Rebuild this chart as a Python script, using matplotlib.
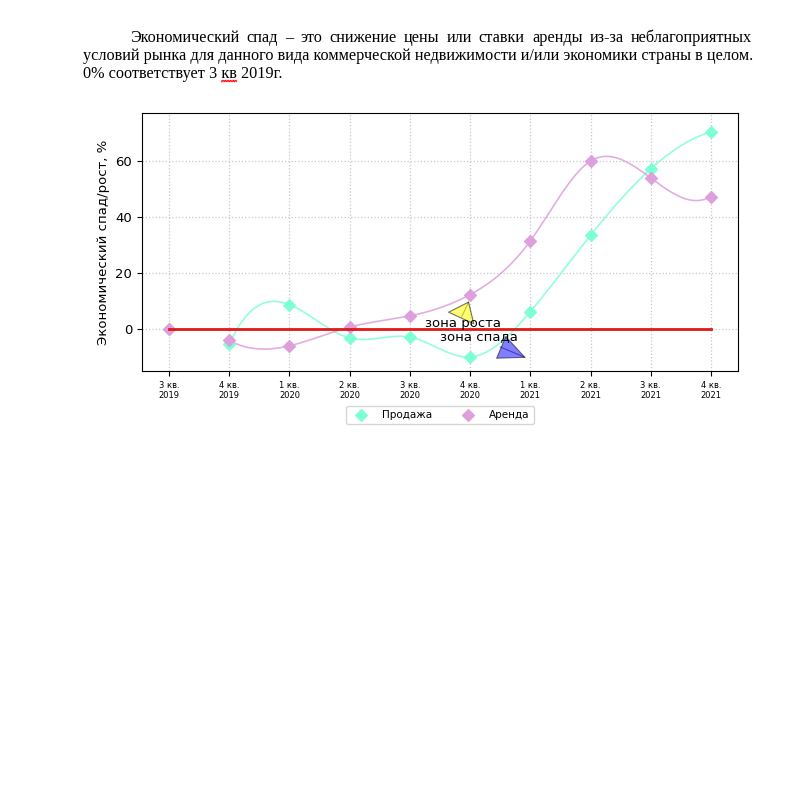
import numpy as np
import matplotlib.pyplot as plt

# data
quarters = ['3 кв.\n2019', '4 кв.\n2019', '1 кв.\n2020', '2 кв.\n2020', '3 кв.\n2020',
            '4 кв.\n2020', '1 кв.\n2021', '2 кв.\n2021', '3 кв.\n2021', '4 кв.\n2021']
sale = [0, -5.3, 8.7, -3.2, -2.9, -10.0, 6.2, 33.5, 57.2, 70.4]
rent = [0, -4.1, -6.0, 0.7, 4.7, 12.3, 31.5, 60.0, 54.0, 47.3]

line1 = 'Экономический спад – это снижение цены или ставки аренды из-за неблагоприятных'
line2 = 'условий рынка для данного вида коммерческой недвижимости и/или экономики страны в целом.'
line3 = '0% соответствует 3 кв 2019г.'


def spline(x, y, n=300):
    # cubic spline, not-a-knot ends
    x = np.asarray(x, float)
    y = np.asarray(y, float)
    k = len(x)
    h = np.diff(x)
    A = np.zeros((k, k))
    b = np.zeros(k)
    for i in range(1, k - 1):
        A[i, i - 1] = h[i - 1]
        A[i, i] = 2 * (h[i - 1] + h[i])
        A[i, i + 1] = h[i]
        b[i] = 6 * ((y[i + 1] - y[i]) / h[i] - (y[i] - y[i - 1]) / h[i - 1])
    A[0, 0], A[0, 1], A[0, 2] = h[1], -(h[0] + h[1]), h[0]
    A[-1, -3], A[-1, -2], A[-1, -1] = h[-1], -(h[-2] + h[-1]), h[-2]
    M = np.linalg.solve(A, b)
    xs = np.linspace(x[0], x[-1], n)
    i = np.clip(np.searchsorted(x, xs) - 1, 0, k - 2)
    x0, x1, hh = x[i], x[i + 1], h[i]
    ys = (M[i] * (x1 - xs) ** 3 + M[i + 1] * (xs - x0) ** 3) / (6 * hh) \
        + (y[i] / hh - M[i] * hh / 6) * (x1 - xs) \
        + (y[i + 1] / hh - M[i + 1] * hh / 6) * (xs - x0)
    return xs, ys


W = H = 787
fig = plt.figure(figsize=(7.87, 7.87), dpi=100)
ax = fig.add_axes([142 / W, 1 - 371 / H, 596 / W, 258 / H])

x = np.arange(len(quarters))

xs, ys = spline(x[1:], sale[1:])
ax.plot(xs, ys, color='aquamarine', lw=1.2, alpha=0.85)
xs, ys = spline(x[1:], rent[1:])
ax.plot(xs, ys, color='plum', lw=1.2, alpha=0.85)

ax.scatter(x, sale, marker='D', s=36, color='aquamarine', label='Продажа', zorder=3)
ax.scatter(x, rent, marker='D', s=36, color='plum', label='Аренда', zorder=3)

ax.plot([x[0], x[-1]], [0, 0], color='#e01818', lw=2, zorder=4)

# arrows
ax.annotate('', xy=(4.98, 9.9), xytext=(4.86, 4.3),
            arrowprops=dict(arrowstyle='-|>,head_length=12.6,head_width=10', mutation_scale=1,
                            fc='yellow', ec='black', lw=0.8, alpha=0.55,
                            shrinkA=0, shrinkB=0))
ax.annotate('', xy=(5.93, -10.3), xytext=(5.5, -6.4),
            arrowprops=dict(arrowstyle='-|>,head_length=18.5,head_width=8.5', mutation_scale=1,
                            fc='blue', ec='black', lw=0.8, alpha=0.5,
                            shrinkA=0, shrinkB=0))
ax.text(4.25, 0.6, 'зона роста', fontsize=9.5, zorder=5)
ax.text(4.5, -3.8, 'зона спада', fontsize=9.5, zorder=5)

ax.set_xlim(-0.45, 9.45)
ax.set_ylim(-15, 77.2)
ax.set_xticks(x)
ax.set_xticklabels(quarters, fontsize=6)
ax.set_yticks([0, 20, 40, 60])
ax.tick_params(axis='y', labelsize=9.5)
ax.set_ylabel('Экономический спад/рост, %', fontsize=9.5)
ax.grid(True, linestyle=':', color='#c8c8c8', lw=0.9)
ax.set_axisbelow(True)

ax.legend(loc='upper center', bbox_to_anchor=(0.5, -0.115), ncol=2, fontsize=7.5,
          markerscale=1.0, columnspacing=2.5, handletextpad=1.0, borderpad=0.4)

# text of the page above the chart
tfont = dict(family='Liberation Serif', fontsize=11.7)
fig.canvas.draw()
ren = fig.canvas.get_renderer()
words = line1.split(' ')
objs = [fig.text(0, 1 - 42 / H, w, **tfont) for w in words]
widths = [o.get_window_extent(ren).width for o in objs]
left, right = 130, 752
gap = (right - left - sum(widths)) / (len(words) - 1)
pos = left
for o, w in zip(objs, widths):
    o.set_x(pos / W)
    pos += w + gap

fig.text(83 / W, 1 - 60 / H, line2, **tfont)
t3 = fig.text(83 / W, 1 - 78 / H, line3, **tfont)
pre = fig.text(0, 0, '0% соответствует 3 ', **tfont)
kv = fig.text(0, 0, 'кв', **tfont)
x0 = 83 + pre.get_window_extent(ren).width
w_kv = kv.get_window_extent(ren).width
pre.remove()
kv.remove()
sx = np.linspace(x0, x0 + w_kv, 20)
sy = 81 + 0.9 * np.where(np.arange(20) % 2 == 0, 1, -1)
fig.add_artist(plt.Line2D(sx / W, 1 - sy / H, color='red', lw=0.6))

plt.savefig('out.png', dpi=100)
